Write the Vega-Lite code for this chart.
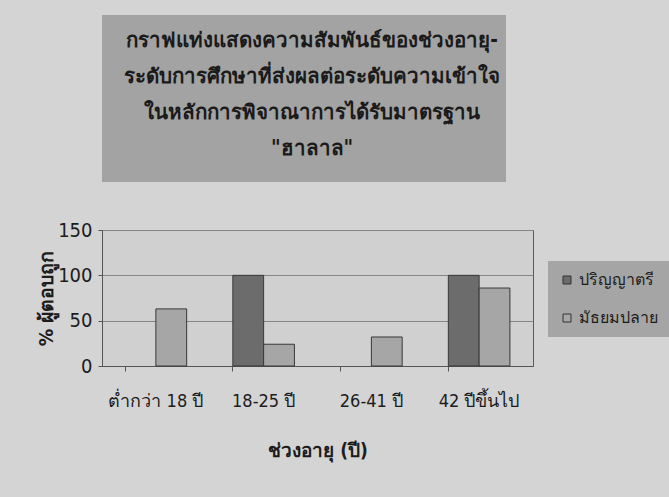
{
  "$schema": "https://vega.github.io/schema/vega-lite/v6.json",
  "background": "#d4d4d4",
  "padding": {"left": 36, "top": 15, "right": 13, "bottom": 36},
  "bounds": "flush",
  "spacing": 48,
  "config": {
    "font": "Liberation Sans Narrow, DejaVu Sans Condensed, sans-serif",
    "axis": {"labelColor": "#1c1c1c", "titleColor": "#1c1c1c"},
    "legend": {"labelColor": "#1c1c1c"}
  },
  "vconcat": [
    {
      "width": 404,
      "height": 167,
      "view": {"fill": "#a3a3a3", "stroke": null},
      "data": {"values": [{}]},
      "mark": {
        "type": "text",
        "text": [
          "กราฟแท่งแสดงความสัมพันธ์ของช่วงอายุ-",
          "ระดับการศึกษาที่ส่งผลต่อระดับความเข้าใจ",
          "ในหลักการพิจาณาการได้รับมาตรฐาน",
          "\"ฮาลาล\""
        ],
        "align": "center",
        "baseline": "middle",
        "dx": 8,
        "dy": -58,
        "fontSize": 20.5,
        "fontWeight": "bold",
        "lineHeight": 36,
        "color": "#1a1a1a"
      },
      "encoding": {}
    },
    {
      "width": 431,
      "height": 136,
      "view": {"fill": "#d0d0d0", "stroke": "#5a5a5a"},
      "data": {
        "values": [
          {"age": "ต่ำกว่า 18 ปี", "edu": "ปริญญาตรี", "pct": 0},
          {"age": "ต่ำกว่า 18 ปี", "edu": "มัธยมปลาย", "pct": 63},
          {"age": "18-25 ปี", "edu": "ปริญญาตรี", "pct": 100},
          {"age": "18-25 ปี", "edu": "มัธยมปลาย", "pct": 24},
          {"age": "26-41 ปี", "edu": "ปริญญาตรี", "pct": 0},
          {"age": "26-41 ปี", "edu": "มัธยมปลาย", "pct": 32},
          {"age": "42 ปีขึ้นไป", "edu": "ปริญญาตรี", "pct": 100},
          {"age": "42 ปีขึ้นไป", "edu": "มัธยมปลาย", "pct": 86}
        ]
      },
      "mark": {"type": "bar", "strokeWidth": 1},
      "encoding": {
        "x": {
          "field": "age",
          "type": "nominal",
          "sort": ["ต่ำกว่า 18 ปี", "18-25 ปี", "26-41 ปี", "42 ปีขึ้นไป"],
          "scale": {"paddingInner": 0.4286, "paddingOuter": 0.2143},
          "axis": {
            "title": "ช่วงอายุ (ปี)",
            "titleFontSize": 19,
            "titleFontWeight": "bold",
            "titlePadding": 31,
            "labelAngle": 0,
            "labelFontSize": 18,
            "labelPadding": 21,
            "tickSize": 5,
            "tickColor": "#555555",
            "domainColor": "#555555",
            "bandPosition": 0,
            "grid": false
          }
        },
        "xOffset": {
          "field": "edu",
          "sort": ["ปริญญาตรี", "มัธยมปลาย"],
          "scale": {"paddingInner": 0}
        },
        "y": {
          "field": "pct",
          "type": "quantitative",
          "scale": {"domain": [0, 150]},
          "axis": {
            "title": "% ผู้ตอบถูก",
            "titleFontSize": 19.5,
            "titleFontWeight": "bold",
            "titlePadding": 1,
            "values": [0, 50, 100, 150],
            "labelFontSize": 20,
            "labelPadding": 6,
            "tickSize": 4,
            "tickColor": "#555555",
            "domainColor": "#555555",
            "gridColor": "#858585",
            "gridOpacity": 1
          }
        },
        "stroke": {
          "condition": {"test": "datum.pct > 0", "value": "#383838"},
          "value": null
        },
        "color": {
          "field": "edu",
          "type": "nominal",
          "scale": {
            "domain": ["ปริญญาตรี", "มัธยมปลาย"],
            "range": ["#6c6c6c", "#a6a6a6"]
          },
          "legend": {
            "title": null,
            "orient": "none",
            "legendX": 446,
            "legendY": 246,
            "fillColor": "#a5a5a5",
            "padding": 11,
            "rowPadding": 22,
            "labelFontSize": 16,
            "labelOffset": 4,
            "symbolType": "square",
            "symbolSize": 64,
            "symbolStrokeColor": "#333333",
            "symbolStrokeWidth": 1,
            "symbolOpacity": 1
          }
        }
      }
    }
  ]
}
